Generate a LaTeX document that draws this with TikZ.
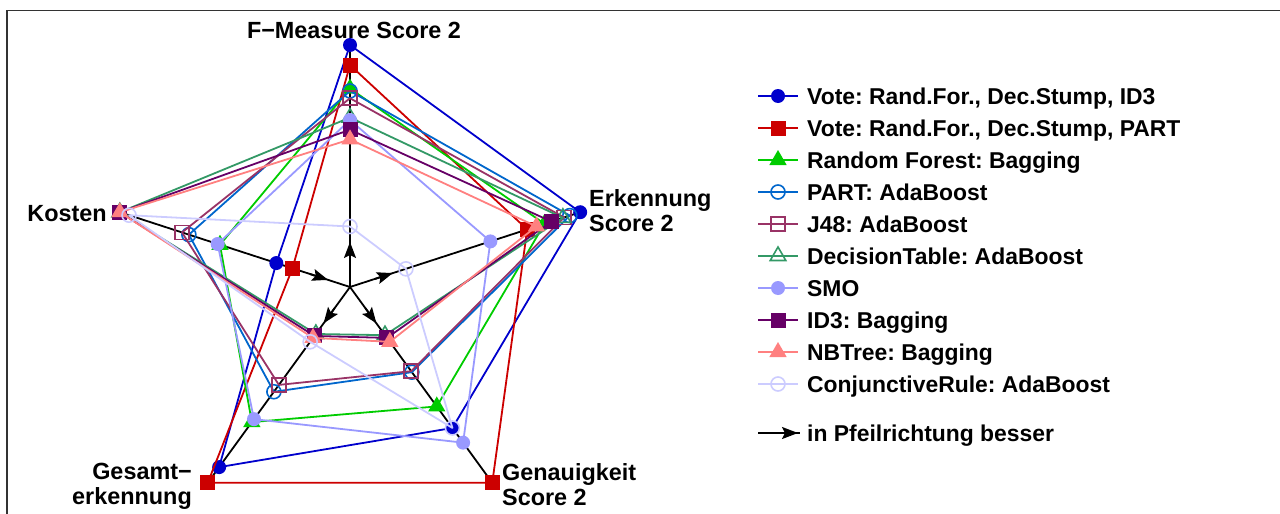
\documentclass[tikz,border=0pt]{standalone}
\usepackage{fontspec}
\setmainfont{Liberation Sans}
\frenchspacing
\usetikzlibrary{shapes.geometric,arrows.meta,calc}
\definecolor{cA}{HTML}{0000CC}
\definecolor{cB}{HTML}{CC0000}
\definecolor{cC}{HTML}{00CC00}
\definecolor{cD}{HTML}{0066CC}
\definecolor{cE}{HTML}{993366}
\definecolor{cF}{HTML}{339966}
\definecolor{cG}{HTML}{9999FF}
\definecolor{cH}{HTML}{660066}
\definecolor{cI}{HTML}{FF8080}
\definecolor{cJ}{HTML}{CCCCFF}
\definecolor{framecol}{HTML}{333333}
\newcommand\polpt[3]{\coordinate (#1) at ({350+#3*cos(#2)},{287-#3*sin(#2)});}
\begin{document}
\begin{tikzpicture}[x=1pt,y=-1pt,
  ser/.style={line width=1.8pt, line join=round},
  axisline/.style={line width=1.8pt, black},
  axarrow/.style={-{Stealth[length=16pt,width=12pt,inset=3pt]}, line width=1.8pt, black},
  lbl/.style={font=\fontsize{23.4}{25}\selectfont\bfseries, inner sep=0pt},
  legtext/.style={font=\fontsize{22.9}{25}\selectfont\bfseries, inner sep=0pt, anchor=base west},
  mdisc/.style={circle, fill, inner sep=0pt, minimum size=14pt},
  msq/.style={rectangle, fill, inner sep=0pt, minimum size=15pt},
  mtri/.style={regular polygon, regular polygon sides=3, fill, inner sep=0pt, minimum size=20pt},
  mocirc/.style={circle, draw, line width=1.6pt, inner sep=0pt, minimum size=14pt},
  mosq/.style={rectangle, draw, line width=1.6pt, inner sep=0pt, minimum size=14pt},
  motri/.style={regular polygon, regular polygon sides=3, draw, line width=1.6pt, inner sep=0pt, minimum size=18pt}]
\useasboundingbox (0,0) rectangle (1280,514);
% frame
\draw[framecol, line width=1.5pt] (7,514) -- (7,10.5) -- (1280,10.5);
% centre and axes
\coordinate (C) at (350,287);
\polpt{axa}{90}{242}
\polpt{axb}{18}{242}
\polpt{axc}{-54}{242}
\polpt{axd}{-126}{242}
\polpt{axe}{162}{242}
\foreach \e in {a,b,c,d,e}{\draw[axisline] (C) -- (ax\e);}
% direction arrows
\polpt{ra1}{90}{26}\polpt{ra2}{90}{45}
\polpt{rb1}{18}{26}\polpt{rb2}{18}{45}
\polpt{rc1}{-54}{26}\polpt{rc2}{-54}{45}
\polpt{rd1}{-126}{26}\polpt{rd2}{-126}{45}
\polpt{re1}{162}{42}\polpt{re2}{162}{23}
\foreach \e in {a,b,c,d,e}{\draw[axarrow] (r\e1) -- (r\e2);}
% data points
\foreach \s/\va/\vb/\vc/\vd/\ve in {
  1/1.0/1.0/0.72/0.92/0.32,
  2/0.917/0.77/1.0/1.0/0.25,
  3/0.82/0.845/0.61/0.69/0.565,
  4/0.81/0.955/0.435/0.535/0.70,
  5/0.78/0.93/0.43/0.50/0.73,
  6/0.70/0.925/0.246/0.24/1.0,
  7/0.69/0.61/0.795/0.675/0.575,
  8/0.65/0.875/0.26/0.25/1.0,
  9/0.61/0.81/0.28/0.26/1.0,
  10/0.25/0.243/0.72/0.28/0.96}{
  \polpt{s\s a}{90}{242*\va}
  \polpt{s\s b}{18}{242*\vb}
  \polpt{s\s c}{-54}{242*\vc}
  \polpt{s\s d}{-126}{242*\vd}
  \polpt{s\s e}{162}{242*\ve}
}
% series
\foreach \s/\col/\mk in {1/cA/mdisc,2/cB/msq,3/cC/mtri,4/cD/mocirc,5/cE/mosq,6/cF/motri,7/cG/mdisc,8/cH/msq,9/cI/mtri,10/cJ/mocirc}{
  \draw[ser, \col] (s\s a) -- (s\s b) -- (s\s c) -- (s\s d) -- (s\s e) -- cycle;
  \foreach \e in {a,b,c,d,e}{\node[\mk, \col] (m\s\e) at (s\s\e) {};}
}
% axis labels (base anchor = baseline of the last line)
\node[lbl, anchor=base] (la) at (354,38) {F−Measure Score 2};
\node[lbl, anchor=base west, align=left] (lb) at (589,231) {Erkennung\\Score 2};
\node[lbl, anchor=base west, align=left] (lc) at (502,505) {Genauigkeit\\Score 2};
\node[lbl, anchor=base east, align=right] (ld) at (192,504) {Gesamt−\\erkennung};
\node[lbl, anchor=base east] (le) at (107,221) {Kosten};
% legend
\foreach \s/\col/\mk/\txt in {1/cA/mdisc/{Vote: Rand.For., Dec.Stump, ID3},
  2/cB/msq/{Vote: Rand.For., Dec.Stump, PART},
  3/cC/mtri/{Random Forest: Bagging},
  4/cD/mocirc/{PART: AdaBoost},
  5/cE/mosq/{J48: AdaBoost},
  6/cF/motri/{DecisionTable: AdaBoost},
  7/cG/mdisc/{SMO},
  8/cH/msq/{ID3: Bagging},
  9/cI/mtri/{NBTree: Bagging},
  10/cJ/mocirc/{ConjunctiveRule: AdaBoost}}{
  \coordinate (gl\s) at (758,{96+32*(\s-1)});
  \coordinate (gr\s) at (798,{96+32*(\s-1)});
  \draw[ser, \col] (gl\s) -- (gr\s);
  \node[\mk, \col] (gm\s) at ($(gl\s)!0.5!(gr\s)$) {};
  \node[legtext] (gt\s) at (807,{104+32*(\s-1)}) {\txt};
}
\coordinate (pl) at (758,433);
\coordinate (pr) at (800,433);
\coordinate (ph) at (772,433);
\coordinate (pt) at (798,433);
\draw[axisline] (pl) -- (pr);
\draw[axarrow] (ph) -- (pt);
\node[legtext] (ptxt) at (807,441) {in Pfeilrichtung besser};
\end{tikzpicture}
\end{document}
